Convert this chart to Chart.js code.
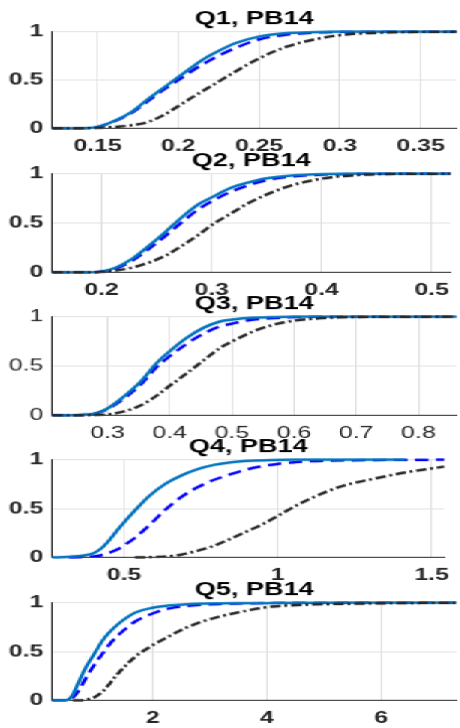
<!DOCTYPE html>
<html>
<head>
<meta charset="utf-8">
<script src="https://cdn.jsdelivr.net/npm/chart.js@4.4.1/dist/chart.umd.min.js"></script>
<style>
  html, body { margin: 0; padding: 0; background: #fff; }
  body { width: 460px; height: 728px; overflow: hidden; position: relative; }
  /* the source figure is stretched 1.5x sideways, so draw narrow and stretch */
  #wrap { position: absolute; left: 0; top: 0; width: 306.667px; height: 728px;
          transform: scaleX(1.5); transform-origin: 0 0; }
  .panel { position: absolute; left: 0; width: 306.667px; }
</style>
</head>
<body>
<div id="wrap"></div>
<script>
// ---- data ----
const yTicks = [0, 0.5, 1];
const yTickLabels = ['0', '0.5', '1'];

// Q1
const q1Range = [0.122, 0.372];
const q1Ticks = [0.15, 0.2, 0.25, 0.3, 0.35];
const q1TickLabels = ['0.15', '0.2', '0.25', '0.3', '0.35'];
const q1X       = [0.122, 0.14, 0.15, 0.162, 0.172, 0.181, 0.19, 0.2, 0.209, 0.218, 0.226, 0.235, 0.25, 0.267, 0.284, 0.3, 0.33, 0.372];
const q1Solid   = [0, 0.003, 0.015, 0.09, 0.18, 0.3, 0.41, 0.53, 0.64, 0.74, 0.81, 0.88, 0.95, 0.985, 0.995, 1, 1, 1];
const q1Dashed  = [0, 0.003, 0.015, 0.085, 0.17, 0.28, 0.39, 0.5, 0.6, 0.69, 0.76, 0.83, 0.92, 0.97, 0.99, 0.998, 1, 1];
const q1DashDot = [0, 0.002, 0.006, 0.018, 0.035, 0.065, 0.13, 0.23, 0.325, 0.415, 0.495, 0.585, 0.725, 0.845, 0.92, 0.965, 0.993, 1];

// Q2
const q2Range = [0.155, 0.517];
const q2Ticks = [0.2, 0.3, 0.4, 0.5];
const q2TickLabels = ['0.2', '0.3', '0.4', '0.5'];
const q2X       = [0.155, 0.18, 0.2, 0.213, 0.228, 0.243, 0.258, 0.273, 0.288, 0.3, 0.318, 0.333, 0.348, 0.372, 0.4, 0.43, 0.46, 0.517];
const q2Solid   = [0, 0, 0.01, 0.05, 0.14, 0.27, 0.41, 0.56, 0.69, 0.76, 0.86, 0.91, 0.95, 0.98, 0.995, 1, 1, 1];
const q2Dashed  = [0, 0, 0.01, 0.04, 0.12, 0.24, 0.37, 0.51, 0.64, 0.72, 0.82, 0.88, 0.93, 0.97, 0.99, 0.997, 1, 1];
const q2DashDot = [0, 0, 0.005, 0.02, 0.05, 0.1, 0.17, 0.27, 0.38, 0.48, 0.6, 0.7, 0.78, 0.88, 0.95, 0.985, 0.997, 1];

// Q3
const q3Range = [0.211, 0.861];
const q3Ticks = [0.3, 0.4, 0.5, 0.6, 0.7, 0.8];
const q3TickLabels = ['0.3', '0.4', '0.5', '0.6', '0.7', '0.8'];
const q3X       = [0.211, 0.25, 0.283, 0.3, 0.326, 0.353, 0.379, 0.4, 0.426, 0.455, 0.48, 0.5, 0.534, 0.567, 0.6, 0.643, 0.7, 0.861];
const q3Solid   = [0, 0.003, 0.025, 0.07, 0.19, 0.34, 0.53, 0.65, 0.78, 0.89, 0.95, 0.97, 0.99, 0.997, 1, 1, 1, 1];
const q3Dashed  = [0, 0.003, 0.025, 0.065, 0.17, 0.31, 0.49, 0.6, 0.72, 0.83, 0.9, 0.93, 0.97, 0.985, 0.995, 1, 1, 1];
const q3DashDot = [0, 0.001, 0.005, 0.01, 0.04, 0.1, 0.2, 0.3, 0.42, 0.56, 0.68, 0.75, 0.85, 0.92, 0.96, 0.985, 0.997, 1];

// Q4
const q4Range = [0.266, 1.541];
const q4Ticks = [0.5, 1, 1.5];
const q4TickLabels = ['0.5', '1', '1.5'];
const q4X       = [0.266, 0.319, 0.372, 0.403, 0.424, 0.45, 0.477, 0.5, 0.535, 0.582, 0.635, 0.687, 0.74, 0.793, 0.845, 0.898, 0.95, 1.0, 1.056, 1.108, 1.16, 1.214, 1.319, 1.414, 1.541];
const q4Solid   = [0, 0.006, 0.022, 0.048, 0.088, 0.17, 0.275, 0.36, 0.48, 0.63, 0.755, 0.84, 0.905, 0.948, 0.973, 0.987, 0.994, 0.998, 1, 1, 1, 1, 1, 1, null];
const q4Dashed  = [null, 0, 0.005, 0.012, 0.022, 0.045, 0.08, 0.125, 0.2, 0.33, 0.49, 0.62, 0.72, 0.795, 0.85, 0.9, 0.935, 0.958, 0.974, 0.985, 0.99, 0.993, 0.997, 0.999, 1];
const q4DashDot = [null, null, null, null, null, null, null, null, 0, 0.003, 0.01, 0.03, 0.07, 0.12, 0.19, 0.265, 0.34, 0.425, 0.525, 0.605, 0.675, 0.735, 0.81, 0.87, 0.93];

// Q5
const q5Range = [0.239, 7.32];
const q5Ticks = [2, 4, 6];
const q5TickLabels = ['2', '4', '6'];
const q5X       = [0.239, 0.45, 0.53, 0.6, 0.7, 0.82, 0.88, 1.0, 1.11, 1.23, 1.4, 1.7, 2.0, 2.28, 2.57, 2.86, 3.15, 3.45, 4.0, 4.6, 5.5, 7.32];
const q5Solid   = [0, 0, 0.012, 0.06, 0.185, 0.33, 0.39, 0.5, 0.605, 0.69, 0.785, 0.9, 0.95, 0.972, 0.983, 0.99, 0.993, 0.995, 0.997, 0.999, 1, 1];
const q5Dashed  = [0, 0, 0.004, 0.03, 0.1, 0.22, 0.28, 0.385, 0.47, 0.565, 0.67, 0.81, 0.89, 0.94, 0.965, 0.978, 0.986, 0.991, 0.996, 0.998, 1, 1];
const q5DashDot = [null, null, null, 0, 0.001, 0.007, 0.015, 0.04, 0.085, 0.16, 0.28, 0.45, 0.565, 0.655, 0.74, 0.805, 0.855, 0.895, 0.955, 0.978, 0.99, 1];

const titles = ['Q1, PB14', 'Q2, PB14', 'Q3, PB14', 'Q4, PB14', 'Q5, PB14'];

// ---- layout ----
const TITLE_H = 23.6;   // 18px * 1.2 + 2 padding
const XAXIS_H = 30;
const YAXIS_W = 34.667;
const plotTops = [32, 174, 317, 460, 603];
const plotBottoms = [128, 272, 415, 557, 700];

const panels = [
  { xs: q1X, solid: q1Solid, dashed: q1Dashed, dashDot: q1DashDot, range: q1Range, ticks: q1Ticks, labels: q1TickLabels, bold: true },
  { xs: q2X, solid: q2Solid, dashed: q2Dashed, dashDot: q2DashDot, range: q2Range, ticks: q2Ticks, labels: q2TickLabels, bold: true },
  { xs: q3X, solid: q3Solid, dashed: q3Dashed, dashDot: q3DashDot, range: q3Range, ticks: q3Ticks, labels: q3TickLabels, bold: false },
  { xs: q4X, solid: q4Solid, dashed: q4Dashed, dashDot: q4DashDot, range: q4Range, ticks: q4Ticks, labels: q4TickLabels, bold: true },
  { xs: q5X, solid: q5Solid, dashed: q5Dashed, dashDot: q5DashDot, range: q5Range, ticks: q5Ticks, labels: q5TickLabels, bold: true }
];

function toPoints(xs, ys) {
  return xs.map((x, i) => ({ x: x, y: ys[i] })).filter(p => p.y !== null);
}

const FONT = '"Liberation Sans", Arial, sans-serif';
const AXIS_COLOR = '#262626';
const GRID_COLOR = '#e0e0e0';

function makePanel(p, i) {
  const div = document.createElement('div');
  div.className = 'panel';
  div.style.top = (plotTops[i] - TITLE_H) + 'px';
  div.style.height = (TITLE_H + plotBottoms[i] - plotTops[i] + XAXIS_H) + 'px';
  const canvas = document.createElement('canvas');
  div.appendChild(canvas);
  document.getElementById('wrap').appendChild(div);

  const tickFont = { family: FONT, size: 16.5, weight: p.bold ? 'bold' : 'normal' };
  const lineBase = { pointRadius: 0, borderWidth: 2.5, fill: false, cubicInterpolationMode: 'monotone', clip: 4 };

  new Chart(canvas.getContext('2d'), {
    type: 'line',
    data: {
      datasets: [
        Object.assign({ label: 'dash-dot', data: toPoints(p.xs, p.dashDot), borderColor: '#262626', borderDash: [7, 2.5, 2, 2.5] }, lineBase),
        Object.assign({ label: 'solid', data: toPoints(p.xs, p.solid), borderColor: '#0072BD' }, lineBase),
        Object.assign({ label: 'dashed', data: toPoints(p.xs, p.dashed), borderColor: '#0000FF', borderDash: [9, 5] }, lineBase)
      ]
    },
    options: {
      responsive: true,
      maintainAspectRatio: false,
      animation: false,
      devicePixelRatio: 1,
      layout: { padding: { left: 0, right: 3.4, top: 0, bottom: 0 } },
      plugins: {
        legend: { display: false },
        tooltip: { enabled: false },
        title: {
          display: true,
          text: titles[i],
          fullSize: false,
          color: '#000',
          font: { family: FONT, size: 18, weight: 'bold', lineHeight: 1.2 },
          padding: { top: 0, bottom: 2 }
        }
      },
      scales: {
        x: {
          type: 'linear',
          min: p.range[0],
          max: p.range[1],
          afterBuildTicks: function(axis) { axis.ticks = p.ticks.map(v => ({ value: v })); },
          afterFit: function(axis) { axis.height = XAXIS_H; },
          ticks: {
            autoSkip: false,
            maxRotation: 0,
            padding: 8,
            color: AXIS_COLOR,
            font: tickFont,
            callback: function(value, index) { return p.labels[index]; }
          },
          grid: { color: GRID_COLOR, drawTicks: false },
          border: { display: true, color: AXIS_COLOR, width: 1 }
        },
        y: {
          min: 0,
          max: 1,
          afterBuildTicks: function(axis) { axis.ticks = yTicks.map(v => ({ value: v })); },
          afterFit: function(axis) { axis.width = YAXIS_W; },
          ticks: {
            padding: 6,
            color: AXIS_COLOR,
            font: tickFont,
            callback: function(value, index) { return yTickLabels[index]; }
          },
          grid: { color: GRID_COLOR, drawTicks: false },
          border: { display: true, color: AXIS_COLOR, width: 1 }
        }
      }
    }
  });
}

panels.forEach(makePanel);
</script>
</body>
</html>
